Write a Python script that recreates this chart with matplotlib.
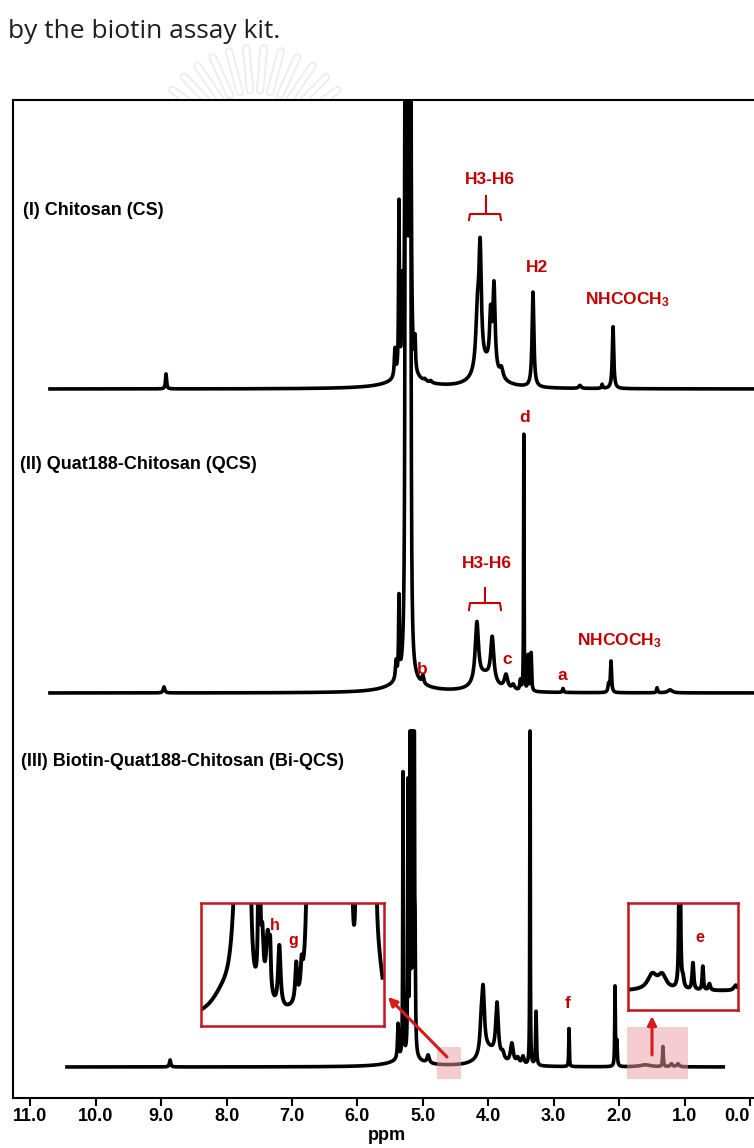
import numpy as np
import matplotlib
matplotlib.use("Agg")
import matplotlib.pyplot as plt
from matplotlib.patches import Rectangle
from matplotlib.lines import Line2D
from matplotlib.transforms import ScaledTranslation

plt.rcParams['font.family'] = ['Liberation Sans', 'DejaVu Sans']
plt.rcParams['mathtext.fontset'] = 'custom'
plt.rcParams['mathtext.rm'] = 'Liberation Sans:bold'
plt.rcParams['mathtext.it'] = 'Liberation Sans:bold'
plt.rcParams['mathtext.bf'] = 'Liberation Sans:bold'
plt.rcParams['mathtext.default'] = 'rm'

# ---------------- data ----------------
tick_ppm = [11.0, 10.0, 9.0, 8.0, 7.0, 6.0, 5.0, 4.0, 3.0, 2.0, 1.0, 0.0]
tick_labels = ["11.0", "10.0", "9.0", "8.0", "7.0", "6.0", "5.0", "4.0", "3.0", "2.0", "1.0", "0.0"]
x_label = "ppm"
header_text = "by the biotin assay kit."
panel_labels = ["(I) Chitosan (CS)", "(II) Quat188-Chitosan (QCS)",
                "(III) Biotin-Quat188-Chitosan (Bi-QCS)"]

# Spectrum I : Chitosan (CS)  -- peak positions (ppm), heights, half-widths (ppm)
cs_range = (10.73, -0.3)
cs_pos = [8.928, 5.25, 5.427, 5.366, 5.32, 5.262, 5.228, 5.194, 5.12, 4.97, 4.88,
          4.03, 4.165, 4.125, 3.965, 3.913, 3.80, 3.317, 2.60, 2.26, 2.093]
cs_hgt = [15, 8, 28, 170, 80, 6000, 6000, 6000, 30, 2, 2,
          22, 55, 112, 50, 84, 10, 95, 3, 4, 62]
cs_wid = [0.010, 0.35, 0.012, 0.007, 0.006, 0.003, 0.003, 0.003, 0.008, 0.02, 0.02,
          0.18, 0.030, 0.022, 0.018, 0.020, 0.03, 0.016, 0.02, 0.01, 0.013]

# Spectrum II : Quat188-Chitosan (QCS)
qcs_range = (10.73, -0.3)
qcs_pos = [8.959, 5.25, 5.41, 5.366, 5.262, 5.228, 5.194, 5.00,
           4.05, 4.175, 3.94, 3.73, 3.62, 3.51, 3.457, 3.39, 3.345,
           2.858, 2.16, 2.124, 1.42, 1.22]
qcs_hgt = [6, 10, 18, 78, 8000, 8000, 8000, 8,
           16, 60, 44, 14, 5, 10, 256, 35, 38,
           4, 8, 31, 5, 3]
qcs_wid = [0.015, 0.30, 0.012, 0.007, 0.0028, 0.0028, 0.0028, 0.015,
           0.16, 0.030, 0.028, 0.030, 0.025, 0.010, 0.004, 0.007, 0.008,
           0.010, 0.012, 0.010, 0.010, 0.04]

# Spectrum III : Biotin-Quat188-Chitosan (Bi-QCS)
bi_range = (10.47, 0.38)
bi_clip = 336
bi_pos = [8.866, 5.25, 5.38, 5.304, 5.228, 5.195, 5.165, 5.135, 5.12, 4.92,
          4.00, 4.11, 4.08, 3.867, 3.78, 3.64, 3.55, 3.47, 3.362, 3.27,
          2.766, 2.063, 2.035, 1.60, 1.33, 1.20, 1.10]
bi_hgt = [7, 8, 35, 284, 267, 1500, 1500, 1500, 110, 8,
          16, 22, 62, 54, 7, 20, 6, 8, 600, 54,
          38, 79, 25, 2, 20, 3, 3]
bi_wid = [0.012, 0.25, 0.010, 0.005, 0.005, 0.0025, 0.0025, 0.0025, 0.007, 0.02,
          0.15, 0.020, 0.024, 0.024, 0.025, 0.025, 0.025, 0.02, 0.003, 0.008,
          0.005, 0.005, 0.008, 0.10, 0.007, 0.02, 0.02]

# Left inset (magnified 4.5-4.85 ppm region): fractional position, height, width
zl_base = 0.05
zl_pos = [0.12, 0.205, 0.255, 0.318, 0.335, 0.365, 0.378, 0.428, 0.52, 0.55, 0.60,
          0.59, 0.615, 0.64, 0.665, 0.69, 0.715, 0.74, 0.765, 0.79, 0.815,
          0.855, 0.88, 0.905, 0.93, 0.945, 0.97]
zl_hgt = [0.15, 1.8, 30, 15, 0.45, 0.55, 0.3, 0.5, 0.3, 0.2, 0.5,
          8, 8, 8, 8, 8, 8, 8, 8, 8, 8,
          20, 8, 8, 8, 8, 0.3]
zl_wid = [0.08, 0.025, 0.003, 0.0015, 0.008, 0.012, 0.004, 0.008, 0.006, 0.006, 0.03,
          0.004, 0.004, 0.004, 0.004, 0.004, 0.004, 0.004, 0.004, 0.004, 0.004,
          0.002, 0.004, 0.004, 0.004, 0.004, 0.03]

# Right inset (magnified 1.0-1.9 ppm region)
zr_base = 0.18
zr_pos = [0.22, 0.31, 0.47, 0.50, 0.59, 0.68, 0.74, 0.98]
zr_hgt = [0.14, 0.13, 4.0, 0.08, 0.25, 0.22, 0.06, 0.05]
zr_wid = [0.05, 0.045, 0.004, 0.010, 0.008, 0.006, 0.010, 0.02]

# ---------------- helpers ----------------
def lor(x, pos, hgt, wid):
    p = np.asarray(pos)[None, :]
    h = np.asarray(hgt)[None, :]
    w = np.asarray(wid)[None, :]
    return (h / (1.0 + ((x[:, None] - p) / w) ** 2)).sum(axis=1)

W, H = 754, 1148
X11, PXPPM = 30.5, 65.4      # pixel x of 11.0 ppm, pixels per ppm
AX_L, AX_R, AX_T, AX_B = 13, 760, 100, 1098

def P(x, y):
    return 11 - (x - X11) / PXPPM, AX_B - y

def F(x, y):
    return x / W, 1 - y / H

red_txt = '#C00000'
red_box = '#C41420'
red_arrow = '#D91A1A'
pink = '#EC9AA2'

fig = plt.figure(figsize=(W / 100, H / 100), dpi=100)
fig.patch.set_facecolor('white')

# faint watermark (sunburst emblem) behind the header
cx, cy = 255, 150
for ang in np.linspace(36, 144, 12):
    a = np.deg2rad(ang)
    x0, y0 = cx + 60 * np.cos(a), cy - 60 * np.sin(a)
    x1, y1 = cx + 102 * np.cos(a), cy - 102 * np.sin(a)
    (fa, fb), (fc, fd) = F(x0, y0), F(x1, y1)
    fig.add_artist(Line2D([fa, fc], [fb, fd], transform=fig.transFigure,
                          color='#EDEDED', lw=6, solid_capstyle='round', zorder=0))
    fig.add_artist(Line2D([fa, fc], [fb, fd], transform=fig.transFigure,
                          color='white', lw=3.4, solid_capstyle='round', zorder=0))

fig.text(*F(8, 31), header_text, family=['Open Sans', 'DejaVu Sans'], fontsize=19,
         color='#1e1e1e', ha='left', va='center', zorder=2)

ax = fig.add_axes([AX_L / W, (H - AX_B) / H, (AX_R - AX_L) / W, (AX_B - AX_T) / H])
ax.set_xlim(11 + (X11 - AX_L) / PXPPM, 11 - (AX_R - X11) / PXPPM)
ax.set_ylim(0, AX_B - AX_T)
for s in ax.spines.values():
    s.set_linewidth(1.5)
ax.set_yticks([])
ax.set_xticks(tick_ppm, tick_labels)
ax.tick_params(axis='x', direction='out', length=6, width=1.5, labelsize=13, pad=1.5)
for t in ax.get_xticklabels():
    t.set_fontweight('bold')
last = ax.get_xticklabels()[-1]
last.set_transform(last.get_transform() + ScaledTranslation(-0.13, 0, fig.dpi_scale_trans))
ax.set_xlabel(x_label, fontsize=13, fontweight='bold', labelpad=1)

x = np.linspace(11.3, -0.4, 60000)

def draw(rng, pos, hgt, wid, base_y, clip=None):
    m = (x <= rng[0]) & (x >= rng[1])
    xs = x[m]
    ys = lor(xs, pos, hgt, wid)
    if clip is not None:
        ys = np.minimum(ys, clip)
    ax.plot(xs, base_y + ys, color='black', lw=2.6, solid_joinstyle='round',
            solid_capstyle='butt', zorder=3)

draw(cs_range, cs_pos, cs_hgt, cs_wid, AX_B - 389)
draw(qcs_range, qcs_pos, qcs_hgt, qcs_wid, AX_B - 693)
draw(bi_range, bi_pos, bi_hgt, bi_wid, AX_B - 1067, clip=bi_clip)

# panel labels
lab_kw = dict(fontsize=13, fontweight='bold', ha='left', va='center', color='black')
ax.text(*P(23, 210), panel_labels[0], **lab_kw)
ax.text(*P(20, 464), panel_labels[1], **lab_kw)
ax.text(*P(21, 762), panel_labels[2], **lab_kw)

# red peak labels
rk = dict(fontsize=12.5, fontweight='bold', ha='center', va='center', color=red_txt, zorder=5)
ax.text(*P(490, 179), "H3-H6", **rk)
ax.text(*P(537, 267), "H2", **rk)
ax.text(*P(627, 300), "NHCOCH$_3$", **rk)
ax.text(*P(487, 563), "H3-H6", **rk)
ax.text(*P(525, 417), "d", **rk)
ax.text(*P(422, 669), "b", **rk)
ax.text(*P(507, 660), "c", **rk)
ax.text(*P(562, 675), "a", **rk)
ax.text(*P(619, 641), "NHCOCH$_3$", **rk)
ax.text(*P(568, 1003), "f", **rk)

def bracket(xl, xr, xm, yh, yend, ystem):
    pts = [P(xl, yend), P(xl + 1, yh), P(xr - 1, yh), P(xr, yend)]
    ax.plot([p[0] for p in pts], [p[1] for p in pts], color=red_txt, lw=1.5,
            solid_joinstyle='round', zorder=5)
    a, b = P(xm, yh), P(xm, ystem)
    ax.plot([a[0], b[0]], [a[1], b[1]], color=red_txt, lw=1.5, zorder=5)

bracket(469, 501, 486, 214, 220, 196)
bracket(469, 501, 485, 603, 610, 588)

# pink highlight regions
for (x0, x1, y0, y1) in [(437, 461, 1047, 1079), (627, 688, 1027, 1079)]:
    pa, pb = P(x0, y1), P(x1, y0)
    ax.add_patch(Rectangle((pb[0], pa[1]), pa[0] - pb[0], pb[1] - pa[1],
                           facecolor=pink, alpha=0.5, edgecolor='none', zorder=4))

# arrows
ax.annotate('', xy=P(388, 997), xytext=P(447, 1057), annotation_clip=False,
            arrowprops=dict(arrowstyle='-|>', color=red_arrow, lw=2.2,
                            mutation_scale=13, shrinkA=0, shrinkB=0), zorder=6)
ax.annotate('', xy=P(652, 1016), xytext=P(652, 1055), annotation_clip=False,
            arrowprops=dict(arrowstyle='-|>', color=red_arrow, lw=2.2,
                            mutation_scale=13, shrinkA=0, shrinkB=0), zorder=6)

# insets
def inset(x0, x1, y0, y1, base, pos, hgt, wid):
    ia = fig.add_axes([x0 / W, (H - y1) / H, (x1 - x0) / W, (y1 - y0) / H])
    ia.set_xlim(0, 1)
    ia.set_ylim(0, 1)
    ia.set_xticks([])
    ia.set_yticks([])
    for s in ia.spines.values():
        s.set_color(red_box)
        s.set_linewidth(1.8)
    u = np.linspace(0.008, 0.992, 6000)
    ia.plot(u, base + lor(u, pos, hgt, wid), color='black', lw=2.8,
            solid_joinstyle='round')
    return ia

inset(201, 384, 903, 1026, zl_base, zl_pos, zl_hgt, zl_wid)
inset(628, 738, 903, 1010, zr_base, zr_pos, zr_hgt, zr_wid)

ik = dict(fontsize=11.5, fontweight='bold', ha='center', va='center', color=red_txt)
fig.text(*F(275, 925), "h", **ik)
fig.text(*F(293, 940), "g", **ik)
fig.text(*F(700, 938), "e", **ik)

fig.savefig("out.png", dpi=100, facecolor='white')
